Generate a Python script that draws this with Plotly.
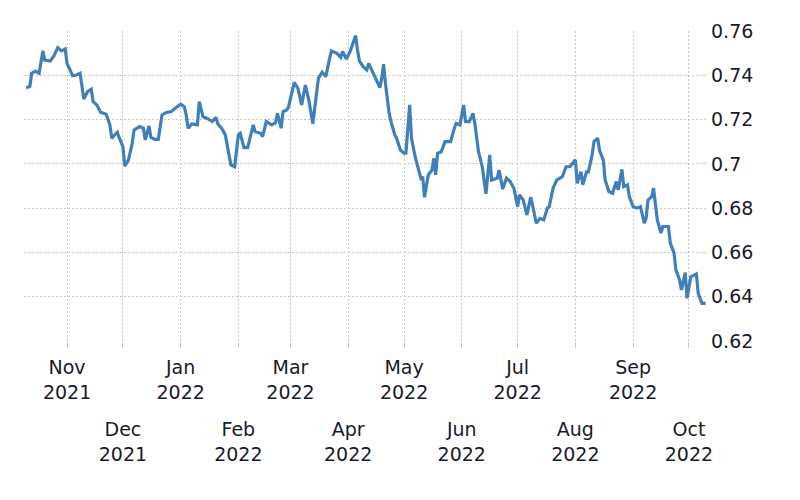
import plotly.graph_objects as go

dates = [
    "2021-10-10", "2021-10-12", "2021-10-13", "2021-10-15", "2021-10-17", "2021-10-19", "2021-10-20",
    "2021-10-23", "2021-10-25", "2021-10-27", "2021-10-29", "2021-10-31", "2021-11-01", "2021-11-02",
    "2021-11-04", "2021-11-06", "2021-11-08", "2021-11-10", "2021-11-12", "2021-11-14", "2021-11-15",
    "2021-11-17", "2021-11-19", "2021-11-22", "2021-11-24", "2021-11-25", "2021-11-28", "2021-11-29",
    "2021-11-30", "2021-12-01", "2021-12-02", "2021-12-04", "2021-12-06", "2021-12-07", "2021-12-10",
    "2021-12-12", "2021-12-13", "2021-12-15", "2021-12-16", "2021-12-18", "2021-12-20", "2021-12-22",
    "2021-12-24", "2021-12-27", "2021-12-29", "2022-01-01", "2022-01-03", "2022-01-04", "2022-01-05",
    "2022-01-07", "2022-01-10", "2022-01-11", "2022-01-13", "2022-01-15", "2022-01-18", "2022-01-20",
    "2022-01-21", "2022-01-23", "2022-01-25", "2022-01-27", "2022-01-28", "2022-01-30", "2022-02-01",
    "2022-02-02", "2022-02-04", "2022-02-06", "2022-02-09", "2022-02-10", "2022-02-13", "2022-02-14",
    "2022-02-16", "2022-02-19", "2022-02-21", "2022-02-22", "2022-02-24", "2022-02-25", "2022-02-27",
    "2022-02-28", "2022-03-03", "2022-03-05", "2022-03-07", "2022-03-09", "2022-03-11", "2022-03-13",
    "2022-03-16", "2022-03-18", "2022-03-20", "2022-03-22", "2022-03-23", "2022-03-26", "2022-03-28",
    "2022-03-29", "2022-03-31", "2022-04-02", "2022-04-03", "2022-04-05", "2022-04-06", "2022-04-07",
    "2022-04-09", "2022-04-11", "2022-04-12", "2022-04-14", "2022-04-16", "2022-04-18", "2022-04-19",
    "2022-04-20", "2022-04-21", "2022-04-23", "2022-04-24", "2022-04-26", "2022-04-27", "2022-04-29",
    "2022-05-01", "2022-05-02", "2022-05-04", "2022-05-05", "2022-05-07", "2022-05-10", "2022-05-11",
    "2022-05-12", "2022-05-14", "2022-05-16", "2022-05-17", "2022-05-18", "2022-05-19", "2022-05-21",
    "2022-05-23", "2022-05-26", "2022-05-28", "2022-05-29", "2022-05-31", "2022-06-02", "2022-06-03",
    "2022-06-05", "2022-06-07", "2022-06-08", "2022-06-10", "2022-06-12", "2022-06-14", "2022-06-16",
    "2022-06-17", "2022-06-20", "2022-06-21", "2022-06-23", "2022-06-25", "2022-06-27", "2022-06-29",
    "2022-07-01", "2022-07-02", "2022-07-04", "2022-07-06", "2022-07-08", "2022-07-09", "2022-07-11",
    "2022-07-13", "2022-07-15", "2022-07-17", "2022-07-18", "2022-07-20", "2022-07-22", "2022-07-25",
    "2022-07-27", "2022-07-29", "2022-08-01", "2022-08-02", "2022-08-04", "2022-08-05", "2022-08-07",
    "2022-08-08", "2022-08-10", "2022-08-11", "2022-08-13", "2022-08-14", "2022-08-16", "2022-08-17",
    "2022-08-19", "2022-08-21", "2022-08-23", "2022-08-24", "2022-08-26", "2022-08-27", "2022-08-29",
    "2022-08-30", "2022-09-01", "2022-09-03", "2022-09-05", "2022-09-07", "2022-09-08", "2022-09-09",
    "2022-09-11", "2022-09-12", "2022-09-14", "2022-09-16", "2022-09-17", "2022-09-20", "2022-09-21",
    "2022-09-23", "2022-09-24", "2022-09-26", "2022-09-27", "2022-09-29", "2022-09-30", "2022-10-02",
    "2022-10-05", "2022-10-06", "2022-10-08", "2022-10-10",
]

values = [
    0.7344, 0.7349, 0.7409, 0.7419, 0.7409, 0.7510, 0.7469,
    0.7465, 0.7489, 0.7525, 0.7510, 0.7519, 0.7454, 0.7432,
    0.7398, 0.7401, 0.7409, 0.7293, 0.7326, 0.7337, 0.7281,
    0.7266, 0.7233, 0.7224, 0.7176, 0.7116, 0.7143, 0.7118,
    0.7093, 0.7078, 0.6990, 0.7018, 0.7093, 0.7153, 0.7168,
    0.7161, 0.7108, 0.7171, 0.7120, 0.7111, 0.7111, 0.7221,
    0.7231, 0.7236, 0.7251, 0.7269, 0.7258, 0.7221, 0.7161,
    0.7180, 0.7176, 0.7281, 0.7213, 0.7206, 0.7191, 0.7210,
    0.7180, 0.7161, 0.7131, 0.7040, 0.6995, 0.6987, 0.7131,
    0.7138, 0.7073, 0.7073, 0.7176, 0.7145, 0.7138, 0.7123,
    0.7191, 0.7176, 0.7186, 0.7228, 0.7161, 0.7236, 0.7243,
    0.7258, 0.7368, 0.7341, 0.7266, 0.7356, 0.7281, 0.7181,
    0.7386, 0.7414, 0.7394, 0.7477, 0.7510, 0.7499, 0.7481,
    0.7507, 0.7474, 0.7507, 0.7529, 0.7579, 0.7514, 0.7465,
    0.7439, 0.7424, 0.7454, 0.7416, 0.7379, 0.7344, 0.7386,
    0.7450, 0.7364, 0.7228, 0.7191, 0.7131, 0.7116, 0.7063,
    0.7048, 0.7048, 0.7266, 0.7115, 0.7030, 0.6935, 0.6942,
    0.6849, 0.6950, 0.6972, 0.7025, 0.6950, 0.7048, 0.7055,
    0.7100, 0.7100, 0.7161, 0.7183, 0.7176, 0.7266, 0.7191,
    0.7191, 0.7228, 0.7183, 0.7055, 0.6987, 0.6864, 0.7040,
    0.6927, 0.6935, 0.6972, 0.6886, 0.6936, 0.6920, 0.6890,
    0.6807, 0.6860, 0.6837, 0.6769, 0.6850, 0.6814, 0.6732,
    0.6754, 0.6747, 0.6800, 0.6807, 0.6890, 0.6927, 0.6942,
    0.6987, 0.6987, 0.7018, 0.6912, 0.6964, 0.6905, 0.6964,
    0.6964, 0.7040, 0.7100, 0.7116, 0.7060, 0.7018, 0.6927,
    0.6875, 0.6867, 0.6920, 0.6882, 0.6975, 0.6897, 0.6905,
    0.6852, 0.6807, 0.6800, 0.6807, 0.6732, 0.6754, 0.6836,
    0.6852, 0.6890, 0.6747, 0.6687, 0.6717, 0.6717, 0.6642,
    0.6597, 0.6521, 0.6476, 0.6431, 0.6509, 0.6393, 0.6490,
    0.6503, 0.6415, 0.6370, 0.6370,
]

all_tick_dates = ["2021-11-01", "2021-12-01", "2022-01-01", "2022-02-01", "2022-03-01", "2022-04-01",
                  "2022-05-01", "2022-06-01", "2022-07-01", "2022-08-01", "2022-09-01", "2022-10-01"]
upper_tick_labels = ["Nov<br>2021", "", "Jan<br>2022", "", "Mar<br>2022", "", "May<br>2022", "",
                     "Jul<br>2022", "", "Sep<br>2022", ""]
lower_tick_dates = ["2021-12-01", "2022-02-01", "2022-04-01", "2022-06-01", "2022-08-01", "2022-10-01"]
lower_tick_labels = ["Dec<br>2021", "Feb<br>2022", "Apr<br>2022", "Jun<br>2022", "Aug<br>2022", "Oct<br>2022"]

y_tick_vals = [0.62, 0.64, 0.66, 0.68, 0.70, 0.72, 0.74, 0.76]
y_tick_labels = ["0.62", "0.64", "0.66", "0.68", "0.7", "0.72", "0.74", "0.76"]

x_range = ["2021-10-08 21:00", "2022-10-10 17:00"]

FONT = "DejaVu Sans"
TEXT = "#1a1a2a"
GRID = "#c8c8c8"

fig = go.Figure()
fig.add_trace(go.Scatter(
    x=dates, y=values, mode="lines",
    line=dict(color="#3f80bb", width=3.2),
    showlegend=False, hoverinfo="x+y",
))
fig.add_trace(go.Scatter(
    x=dates, y=values, mode="lines", xaxis="x2",
    line=dict(color="rgba(0,0,0,0)", width=0),
    showlegend=False, hoverinfo="skip",
))

fig.update_layout(
    width=800, height=500,
    paper_bgcolor="white", plot_bgcolor="white",
    margin=dict(l=16, r=101, t=23, b=167),
    font=dict(family=FONT, size=19, color=TEXT),
    xaxis=dict(
        type="date", range=x_range,
        tickmode="array", tickvals=all_tick_dates, ticktext=upper_tick_labels,
        showgrid=True, gridcolor=GRID, gridwidth=1, griddash="2px,2px",
        ticks="outside", ticklen=6, tickcolor=GRID, tickwidth=1,
        showline=False, zeroline=False,
        ticklabelstandoff=3,
        tickfont=dict(family=FONT, size=19, color=TEXT),
    ),
    xaxis2=dict(
        type="date", overlaying="x", matches="x", side="bottom", range=x_range,
        tickmode="array", tickvals=lower_tick_dates, ticktext=lower_tick_labels,
        showgrid=False, ticks="", showline=False, zeroline=False,
        ticklabelstandoff=75,
        tickfont=dict(family=FONT, size=19, color=TEXT),
    ),
    yaxis=dict(
        side="right", range=[0.62, 0.76],
        tickmode="array", tickvals=y_tick_vals, ticktext=y_tick_labels,
        showgrid=True, gridcolor=GRID, gridwidth=1, griddash="2px,2px",
        ticks="", showline=False, zeroline=False,
        ticklabelstandoff=3,
        tickfont=dict(family=FONT, size=19, color=TEXT),
    ),
)

fig.write_html("out.html")
